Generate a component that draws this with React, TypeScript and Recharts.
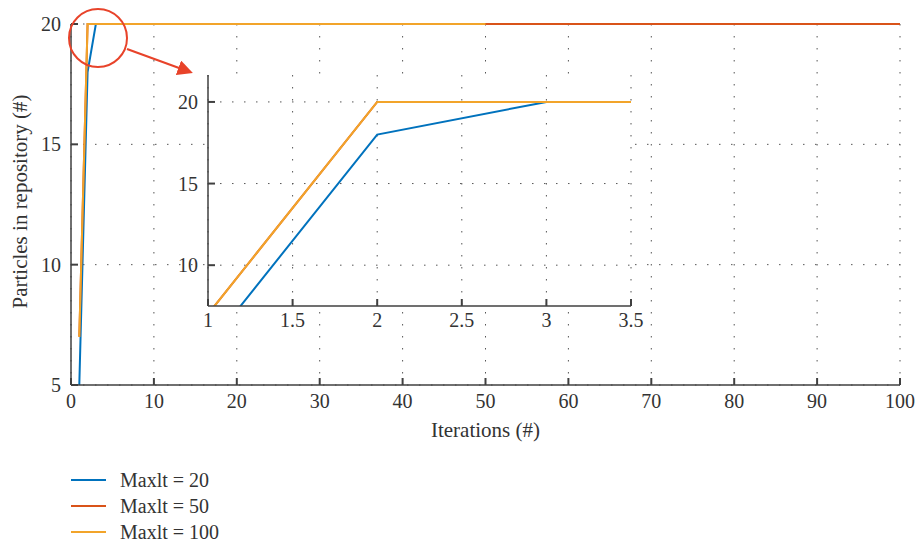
import { LineChart, Line, XAxis, YAxis, CartesianGrid, Legend } from 'recharts';

// series: iteration / particle pairs (flat at 20 after the knee, so only the corners are listed)
const seriesNames = ['Maxlt = 20', 'Maxlt = 50', 'Maxlt = 100'];
const seriesColors = ['#0072BD', '#D95319', '#F2A42A'];

const iterMax20 = [1, 2, 3, 20];
const partMax20 = [5, 18, 20, 20];
const iterMax50 = [1, 2, 100];
const partMax50 = [7, 20, 20];
const iterMax100 = [1, 2, 50];
const partMax100 = [7, 20, 20];

const mainXTicks = [0, 10, 20, 30, 40, 50, 60, 70, 80, 90, 100];
const mainYTicks = [5, 10, 15, 20];
const insetXTicks = [1, 1.5, 2, 2.5, 3, 3.5];
const insetYTicks = [10, 15, 20];

const toPoints = (xs: number[], ys: number[]) => xs.map((x, i) => ({ x, y: ys[i] }));
const series = [
  toPoints(iterMax20, partMax20),
  toPoints(iterMax50, partMax50),
  toPoints(iterMax100, partMax100),
];

const AX = '#404040';
const TXT = '#333';
const FONT = '"Liberation Serif", "Times New Roman", serif';
const GRID_DASH = '1.5 10.5';

const BottomTick = (props: any) => {
  const { x, y, payload, gap } = props;
  return (
    <g>
      <line x1={x} y1={y} x2={x} y2={y - 7} stroke={AX} strokeWidth={2} />
      <text x={x} y={y + gap} textAnchor="middle" fontSize={20} fill={TXT} fontFamily={FONT}>
        {payload.value}
      </text>
    </g>
  );
};

const LeftTick = (props: any) => {
  const { x, y, payload } = props;
  return (
    <g>
      <line x1={x} y1={y} x2={x + 7} y2={y} stroke={AX} strokeWidth={2} />
      <text x={x - 10} y={y + 7} textAnchor="end" fontSize={20} fill={TXT} fontFamily={FONT}>
        {payload.value}
      </text>
    </g>
  );
};

const TopTick = (props: any) => {
  const { x, y } = props;
  return <line x1={x} y1={y} x2={x} y2={y + 7} stroke={AX} strokeWidth={2} />;
};

const RightTick = (props: any) => {
  const { x, y } = props;
  return <line x1={x} y1={y} x2={x - 7} y2={y} stroke={AX} strokeWidth={2} />;
};

// keep the series order, not the legend's default sort
const LegendBox = (props: any) => {
  const items = [...(props.payload || [])].sort(
    (a: any, b: any) => seriesNames.indexOf(a.value) - seriesNames.indexOf(b.value)
  );
  return (
    <div style={{ fontFamily: FONT, fontSize: 20, color: TXT }}>
      {items.map((p: any) => (
        <div key={p.value} style={{ display: 'flex', alignItems: 'center', height: 26 }}>
          <svg width={49} height={4}>
            <line x1={0} y1={2} x2={35} y2={2} stroke={p.color} strokeWidth={2} />
          </svg>
          <span>{p.value}</span>
        </div>
      ))}
    </div>
  );
};

export default function App() {
  return (
    <div style={{ position: 'absolute', left: 0, top: 0, width: 916, height: 543, background: '#fff' }}>
      <LineChart width={916} height={543} margin={{ top: 24, right: 16, bottom: 143, left: 0 }}>
        <CartesianGrid
          xAxisId="main"
          yAxisId="main"
          stroke="#555"
          strokeDasharray={GRID_DASH}
          verticalValues={mainXTicks}
          horizontalValues={mainYTicks}
        />
        <XAxis
          xAxisId="main"
          dataKey="x"
          type="number"
          domain={[0, 100]}
          ticks={mainXTicks}
          height={15}
          tickSize={0}
          tickMargin={0}
          tickLine={false}
          axisLine={{ stroke: AX, strokeWidth: 1.5 }}
          tick={(p: any) => <BottomTick {...p} gap={23} />}
          label={{
            content: ({ viewBox }: any) => (
              <text x={viewBox.x + viewBox.width / 2} y={viewBox.y + 52} textAnchor="middle" fontSize={21} fill={TXT} fontFamily={FONT}>
                Iterations (#)
              </text>
            ),
          }}
        />
        <XAxis
          xAxisId="top"
          orientation="top"
          type="number"
          domain={[0, 100]}
          ticks={mainXTicks}
          height={0}
          tickSize={0}
          tickMargin={0}
          tickLine={false}
          axisLine={{ stroke: AX, strokeWidth: 1.5 }}
          tick={(p: any) => <TopTick {...p} />}
        />
        <YAxis
          yAxisId="main"
          type="number"
          domain={[5, 20]}
          ticks={mainYTicks}
          width={71}
          tickSize={0}
          tickMargin={0}
          tickLine={false}
          axisLine={{ stroke: AX, strokeWidth: 1.5 }}
          tick={(p: any) => <LeftTick {...p} />}
          label={{
            content: ({ viewBox }: any) => {
              const cy = viewBox.y + viewBox.height / 2 - 3;
              return (
                <text x={27} y={cy} transform={`rotate(-90, 27, ${cy})`} textAnchor="middle" fontSize={21} fill={TXT} fontFamily={FONT}>
                  Particles in repository (#)
                </text>
              );
            },
          }}
        />
        <YAxis
          yAxisId="right"
          orientation="right"
          type="number"
          domain={[5, 20]}
          ticks={mainYTicks}
          width={0}
          tickSize={0}
          tickMargin={0}
          tickLine={false}
          axisLine={{ stroke: AX, strokeWidth: 1.5 }}
          tick={(p: any) => <RightTick {...p} />}
        />
        {series.map((d, i) => (
          <Line
            key={seriesNames[i]}
            xAxisId="main"
            yAxisId="main"
            data={d}
            dataKey="y"
            name={seriesNames[i]}
            stroke={seriesColors[i]}
            strokeWidth={2}
            dot={false}
            activeDot={false}
            legendType="plainline"
            isAnimationActive={false}
          />
        ))}
        <Legend
          layout="vertical"
          align="center"
          verticalAlign="middle"
          content={<LegendBox />}
          wrapperStyle={{ position: 'absolute', left: 71, top: 467, width: 220, bottom: 'auto' }}
        />
      </LineChart>

      <div style={{ position: 'absolute', left: 150, top: 60 }}>
        <LineChart width={500} height={280} margin={{ top: 15, right: 19, bottom: 0, left: 0 }}>
          <CartesianGrid
            xAxisId="in"
            yAxisId="in"
            fill="#fff"
            fillOpacity={1}
            stroke="#555"
            strokeDasharray={GRID_DASH}
            verticalValues={insetXTicks}
            horizontalValues={insetYTicks}
          />
          <XAxis
            xAxisId="in"
            dataKey="x"
            type="number"
            domain={[1, 3.5]}
            ticks={insetXTicks}
            allowDataOverflow
            height={34}
            tickSize={0}
            tickMargin={0}
            tickLine={false}
            axisLine={{ stroke: AX, strokeWidth: 1.5 }}
            tick={(p: any) => <BottomTick {...p} gap={21} />}
          />
          <XAxis
            xAxisId="inTop"
            orientation="top"
            type="number"
            domain={[1, 3.5]}
            ticks={insetXTicks}
            height={0}
            tickSize={0}
            tickMargin={0}
            tickLine={false}
            axisLine={{ stroke: AX, strokeWidth: 1.5 }}
            tick={(p: any) => <TopTick {...p} />}
          />
          <YAxis
            yAxisId="in"
            type="number"
            domain={[7.5, 21.65]}
            ticks={insetYTicks}
            allowDataOverflow
            width={58}
            tickSize={0}
            tickMargin={0}
            tickLine={false}
            axisLine={{ stroke: AX, strokeWidth: 1.5 }}
            tick={(p: any) => <LeftTick {...p} />}
          />
          <YAxis
            yAxisId="inRight"
            orientation="right"
            type="number"
            domain={[7.5, 21.65]}
            ticks={insetYTicks}
            width={0}
            tickSize={0}
            tickMargin={0}
            tickLine={false}
            axisLine={{ stroke: AX, strokeWidth: 1.5 }}
            tick={(p: any) => <RightTick {...p} />}
          />
          {series.map((d, i) => (
            <Line
              key={seriesNames[i]}
              xAxisId="in"
              yAxisId="in"
              data={d}
              dataKey="y"
              name={seriesNames[i]}
              stroke={seriesColors[i]}
              strokeWidth={2}
              dot={false}
              activeDot={false}
              isAnimationActive={false}
            />
          ))}
        </LineChart>
      </div>

      {/* zoom callout: circle round the knee and arrow to the inset */}
      <svg width={916} height={543} style={{ position: 'absolute', left: 0, top: 0, pointerEvents: 'none' }}>
        <defs>
          <marker id="head" viewBox="0 0 10 10" refX={8} refY={5} markerWidth={7} markerHeight={7} orient="auto">
            <path d="M0,0 L10,5 L0,10 z" fill="#E8432A" />
          </marker>
        </defs>
        <circle cx={98} cy={38} r={29} fill="none" stroke="#E8432A" strokeWidth={2} />
        <line x1={127} y1={49} x2={190} y2={72} stroke="#E8432A" strokeWidth={2.2} markerEnd="url(#head)" />
      </svg>
    </div>
  );
}
